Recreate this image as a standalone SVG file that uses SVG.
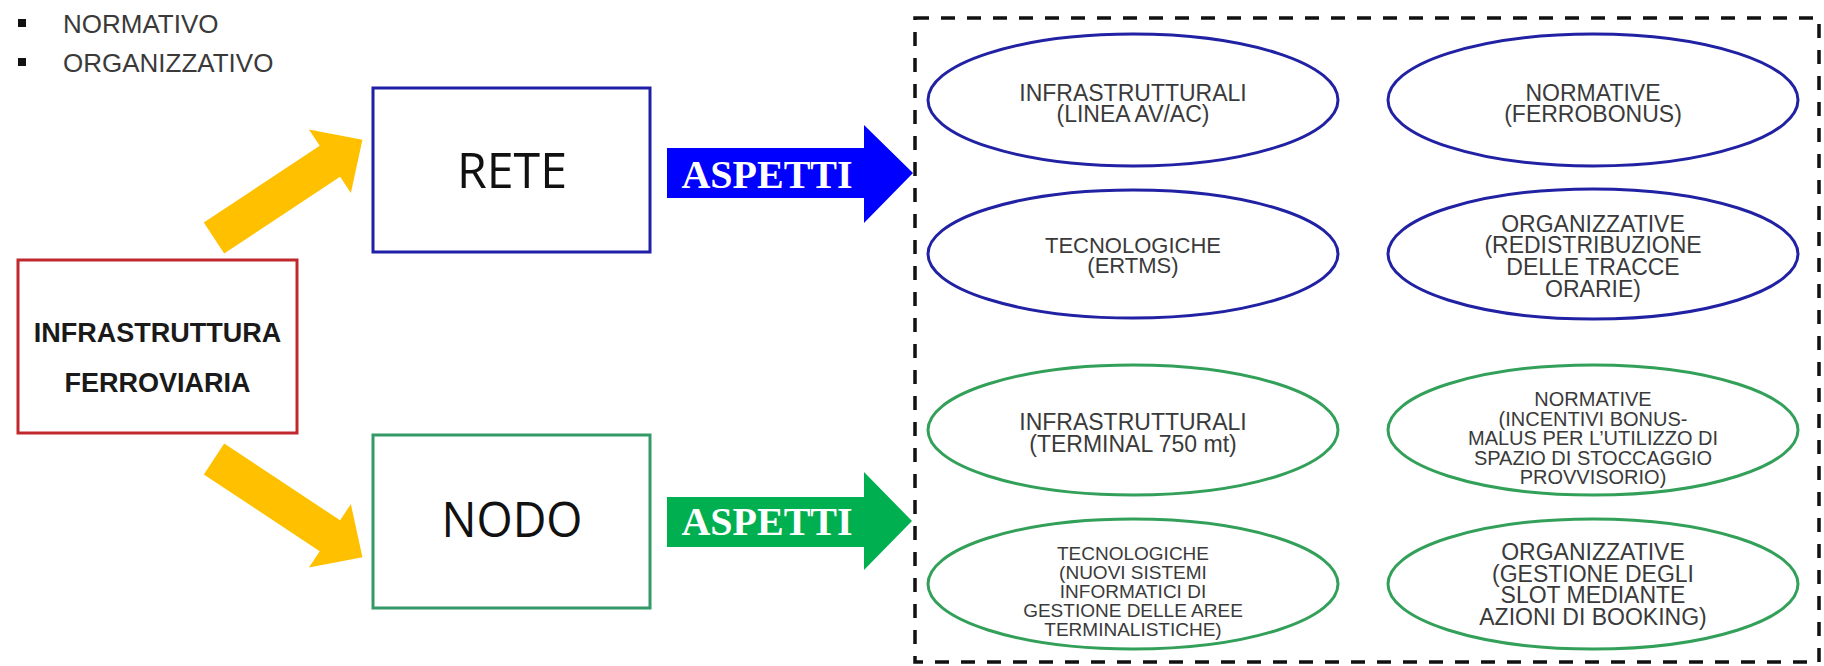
<svg xmlns="http://www.w3.org/2000/svg" width="1824" height="666" viewBox="0 0 1824 666">
<style>
  .bg { fill: #ffffff; }
  .lbl { font-family: "Liberation Sans", Arial, sans-serif; fill: #3a3a3a; text-anchor: middle; }
  .bul { font-family: "Liberation Sans", Arial, sans-serif; fill: #3a3a3a; font-size: 26px; }
  .big { font-family: "Open Sans", "Liberation Sans", sans-serif; fill: #111; font-size: 49px; text-anchor: middle; }
  .bold { font-family: "Liberation Sans", Arial, sans-serif; font-weight: bold; fill: #1a1a1a; font-size: 27px; text-anchor: middle; }
  .asp { font-family: "Liberation Serif", "Times New Roman", serif; font-weight: bold; fill: #ffffff; font-size: 40px; text-anchor: middle; }
  .eb { fill: #ffffff; stroke: #2121a3; stroke-width: 3; }
  .eg { fill: #ffffff; stroke: #33a05a; stroke-width: 3; }
  .yel { fill: #ffc000; }
  .dash { fill: none; stroke: #111; stroke-width: 3.5; stroke-dasharray: 14 12; }
</style>
<rect class="bg" x="0" y="0" width="1824" height="666"/>

<g id="legend">
  <rect x="18" y="19" width="8" height="8" fill="#111"/>
  <text class="bul" x="63" y="33">NORMATIVO</text>
  <rect x="18" y="58" width="8" height="8" fill="#111"/>
  <text class="bul" x="63" y="72">ORGANIZZATIVO</text>
</g>

<g id="connectors">
  <polygon class="yel" transform="translate(214,238) rotate(-33.5)" points="0,-18.5 139,-18.5 139,-38 178,0 139,38 139,18.5 0,18.5"/>
  <polygon class="yel" transform="translate(214,459) rotate(33.5)" points="0,-18.5 139,-18.5 139,-38 178,0 139,38 139,18.5 0,18.5"/>
  <g id="arrow-aspetti-rete">
    <polygon fill="#0000ff" points="667,148 864,148 864,125 913,173 864,223 864,198 667,198"/>
    <text class="asp" x="767" y="188">ASPETTI</text>
  </g>
  <g id="arrow-aspetti-nodo">
    <polygon fill="#00b050" points="667,497 864,497 864,472 912,521 864,570 864,547 667,547"/>
    <text class="asp" x="767" y="535">ASPETTI</text>
  </g>
</g>

<g id="infrastruttura">
  <rect x="18" y="260" width="279" height="173" fill="#fff" stroke="#c0282d" stroke-width="3"/>
  <text class="bold" x="157.5" y="342">INFRASTRUTTURA</text>
  <text class="bold" x="157.5" y="392">FERROVIARIA</text>
</g>

<g id="rete">
  <rect x="373" y="88" width="277" height="164" fill="#fff" stroke="#1f1fa8" stroke-width="3"/>
  <text class="big" x="512" y="188" textLength="110" lengthAdjust="spacingAndGlyphs">RETE</text>
</g>

<g id="nodo">
  <rect x="373" y="435" width="277" height="173" fill="#fff" stroke="#339966" stroke-width="3"/>
  <text class="big" x="512" y="537" textLength="141" lengthAdjust="spacingAndGlyphs">NODO</text>
</g>

<g id="aspetti-box">
  <rect class="dash" x="915" y="18" width="904" height="644"/>
</g>

<g id="rete-infrastrutturali">
  <ellipse class="eb" cx="1133" cy="100" rx="205" ry="66"/>
  <text class="lbl" font-size="23" x="1133" y="101">INFRASTRUTTURALI</text>
  <text class="lbl" font-size="23" x="1133" y="122">(LINEA AV/AC)</text>
</g>
<g id="rete-normative">
  <ellipse class="eb" cx="1593" cy="100" rx="205" ry="66"/>
  <text class="lbl" font-size="23" x="1593" y="101">NORMATIVE</text>
  <text class="lbl" font-size="23" x="1593" y="122">(FERROBONUS)</text>
</g>
<g id="rete-tecnologiche">
  <ellipse class="eb" cx="1133" cy="254" rx="205" ry="64"/>
  <text class="lbl" font-size="22" x="1133" y="253">TECNOLOGICHE</text>
  <text class="lbl" font-size="22" x="1133" y="273">(ERTMS)</text>
</g>
<g id="rete-organizzative">
  <ellipse class="eb" cx="1593" cy="254" rx="205" ry="65"/>
  <text class="lbl" font-size="23" x="1593" y="232">ORGANIZZATIVE</text>
  <text class="lbl" font-size="23" x="1593" y="253">(REDISTRIBUZIONE</text>
  <text class="lbl" font-size="23" x="1593" y="275">DELLE TRACCE</text>
  <text class="lbl" font-size="23" x="1593" y="297">ORARIE)</text>
</g>

<g id="nodo-infrastrutturali">
  <ellipse class="eg" cx="1133" cy="430" rx="205" ry="65"/>
  <text class="lbl" font-size="23" x="1133" y="430">INFRASTRUTTURALI</text>
  <text class="lbl" font-size="23" x="1133" y="452">(TERMINAL 750 mt)</text>
</g>
<g id="nodo-normative">
  <ellipse class="eg" cx="1593" cy="430" rx="205" ry="65"/>
  <text class="lbl" font-size="20" x="1593" y="406">NORMATIVE</text>
  <text class="lbl" font-size="20" x="1593" y="425.5">(INCENTIVI BONUS-</text>
  <text class="lbl" font-size="20" x="1593" y="445">MALUS PER L’UTILIZZO DI</text>
  <text class="lbl" font-size="20" x="1593" y="464.5">SPAZIO DI STOCCAGGIO</text>
  <text class="lbl" font-size="20" x="1593" y="484">PROVVISORIO)</text>
</g>
<g id="nodo-tecnologiche">
  <ellipse class="eg" cx="1133" cy="584" rx="205" ry="65"/>
  <text class="lbl" font-size="19" x="1133" y="560">TECNOLOGICHE</text>
  <text class="lbl" font-size="19" x="1133" y="579">(NUOVI SISTEMI</text>
  <text class="lbl" font-size="19" x="1133" y="598">INFORMATICI DI</text>
  <text class="lbl" font-size="19" x="1133" y="617">GESTIONE DELLE AREE</text>
  <text class="lbl" font-size="19" x="1133" y="636">TERMINALISTICHE)</text>
</g>
<g id="nodo-organizzative">
  <ellipse class="eg" cx="1593" cy="584" rx="205" ry="65"/>
  <text class="lbl" font-size="23" x="1593" y="560">ORGANIZZATIVE</text>
  <text class="lbl" font-size="23" x="1593" y="582">(GESTIONE DEGLI</text>
  <text class="lbl" font-size="23" x="1593" y="603">SLOT MEDIANTE</text>
  <text class="lbl" font-size="23" x="1593" y="625">AZIONI DI BOOKING)</text>
</g>
</svg>
